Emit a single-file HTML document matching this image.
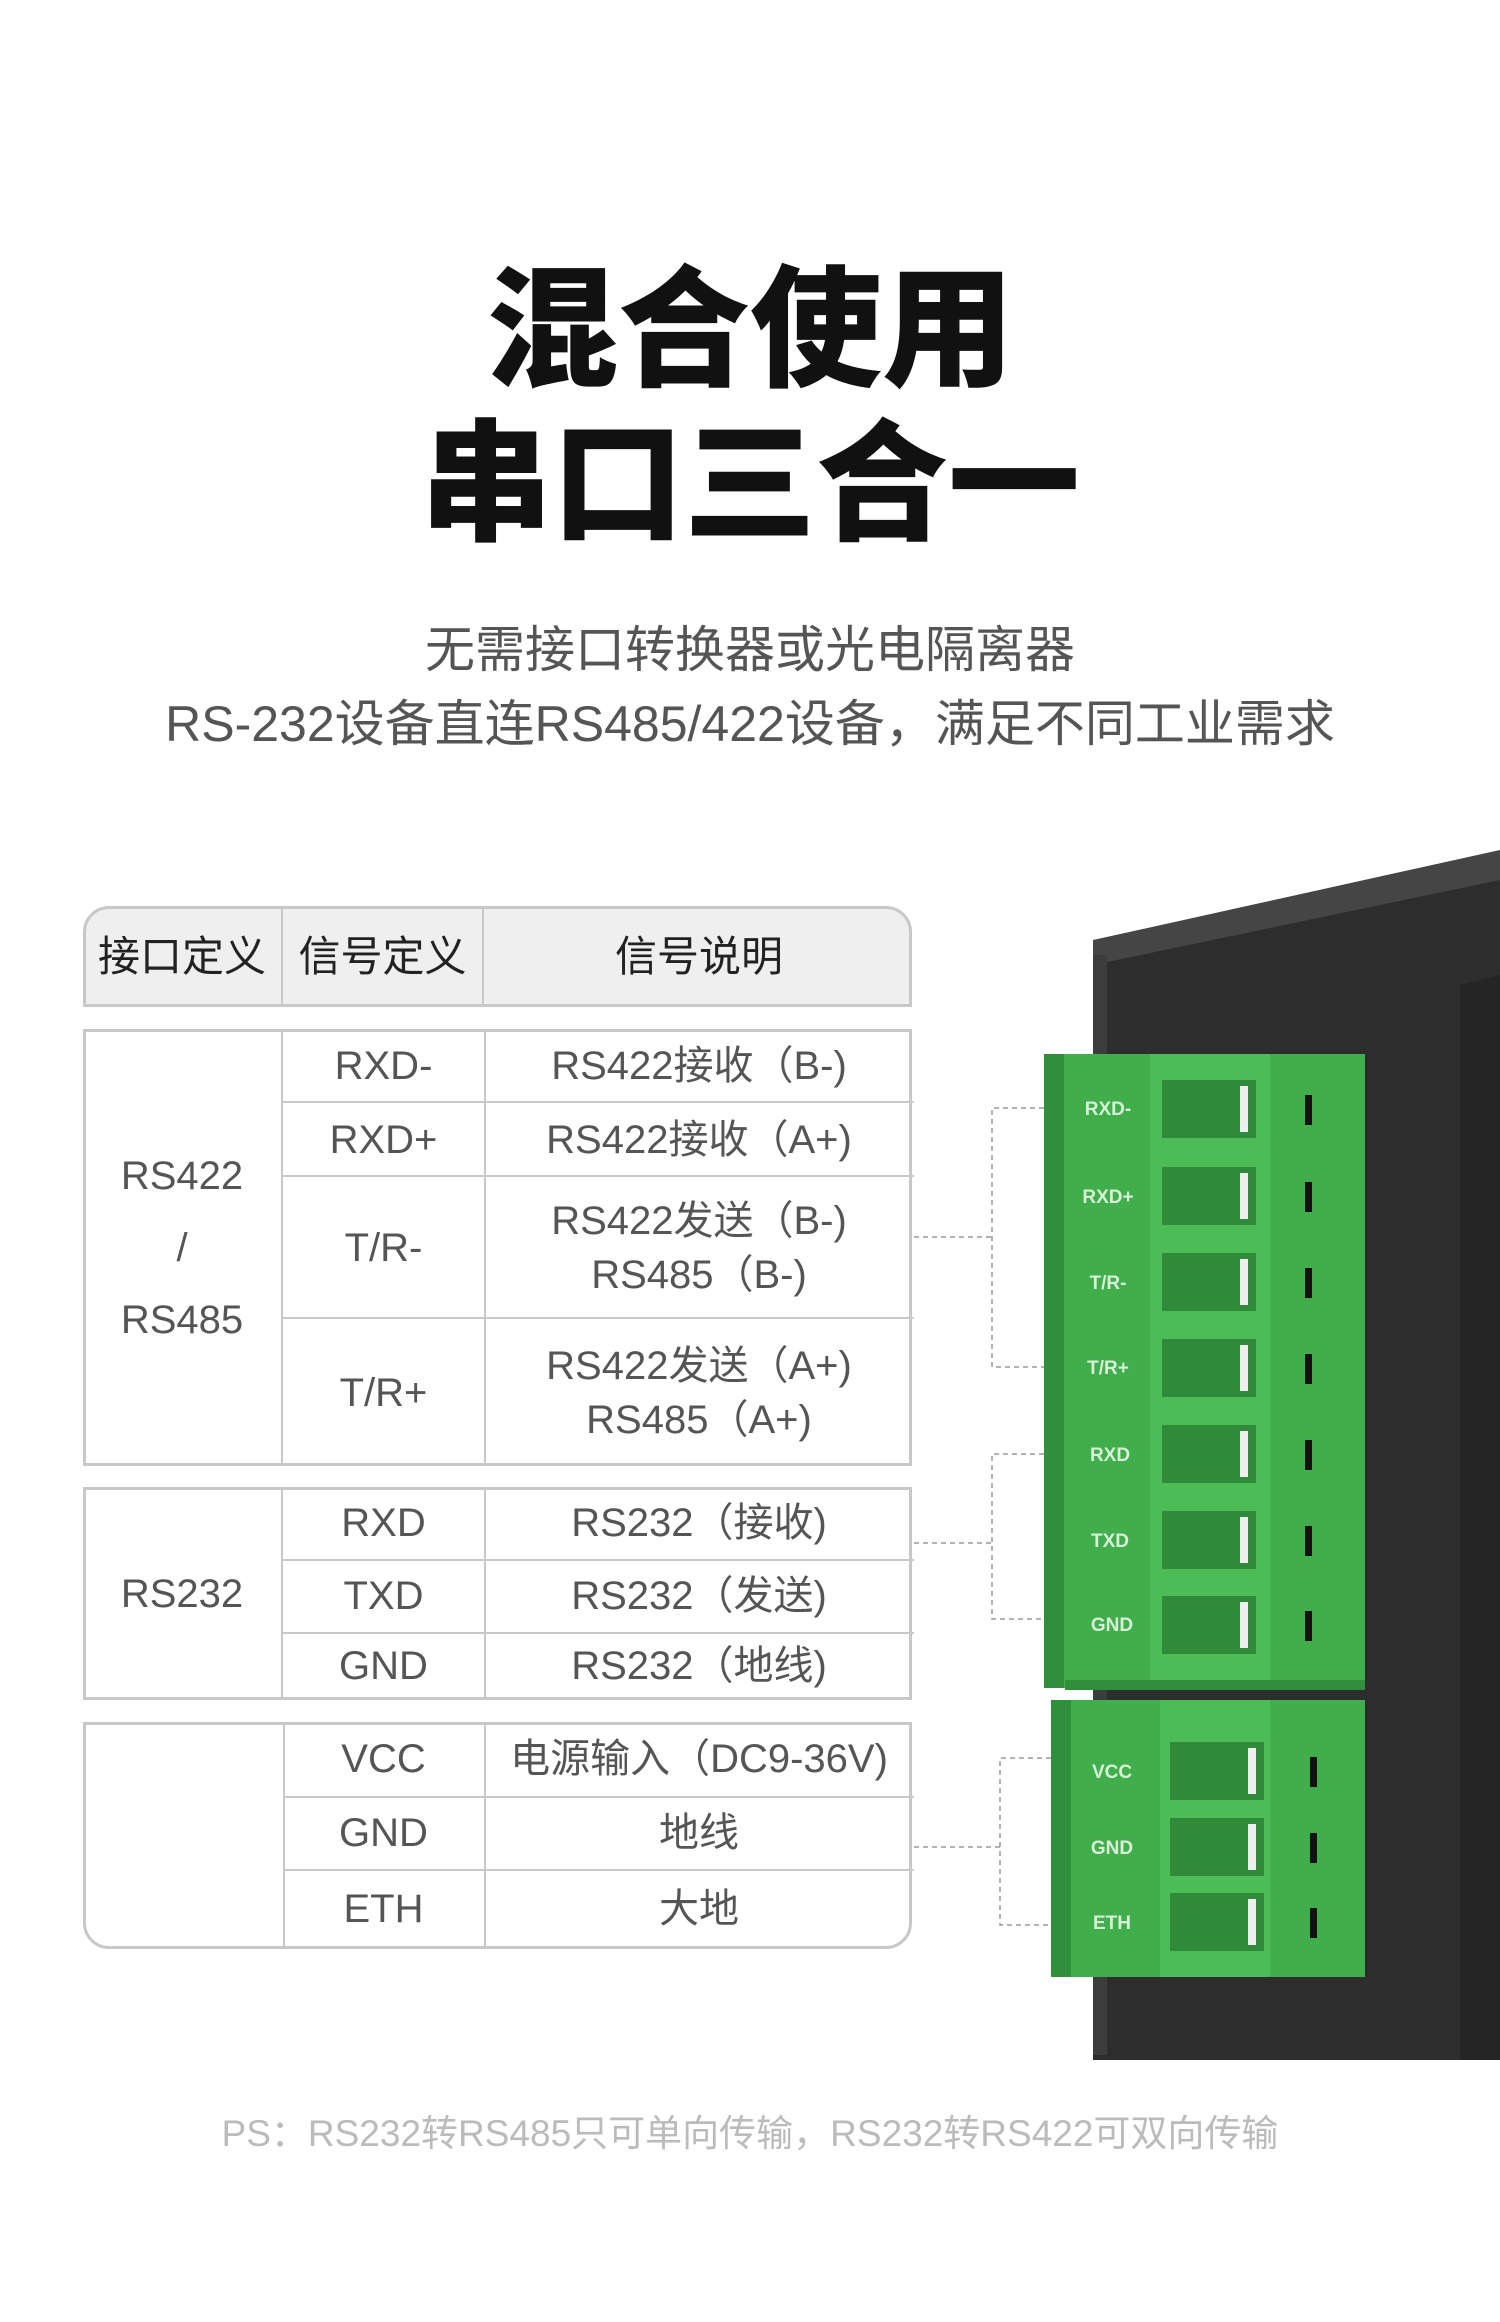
<!DOCTYPE html>
<html><head><meta charset="utf-8"><style>
body{margin:0;width:1500px;height:2322px;background:#fff;position:relative;overflow:hidden;font-family:"Liberation Sans","Noto Sans CJK SC",sans-serif;}
.a{position:absolute;}
.t{position:absolute;left:0;width:1500px;text-align:center;font-weight:900;color:#111;font-size:132px;line-height:140px;font-family:"Noto Sans CJK SC",sans-serif;}
.s{position:absolute;left:0;width:1500px;text-align:center;color:#555;font-size:50px;line-height:60px;}
.box{position:absolute;left:83px;width:829px;border:3px solid #c8c8c8;box-sizing:border-box;}
.c{position:absolute;display:flex;align-items:center;justify-content:center;text-align:center;color:#555;font-size:40px;line-height:54px;box-sizing:border-box;}
</style></head><body>
<div class="t" style="top:250px">混合使用</div>
<div class="t" style="top:404px">串口三合一</div>
<div class="s" style="top:620px">无需接口转换器或光电隔离器</div>
<div class="s" style="top:694px">RS-232设备直连RS485/422设备，满足不同工业需求</div>

<svg class="a" style="left:0;top:0" width="1500" height="2322">
<polygon points="1093,955 1500,865 1500,2060 1093,2060" fill="#2d2d2d"/>
<polygon points="1093,940 1500,850 1500,880 1093,965" fill="#454545"/>
<rect x="1093" y="955" width="14" height="1100" fill="#3c3c3c"/>
<polygon points="1460,985 1500,975 1500,2060 1460,2060" fill="#252525"/>
<rect x="1044" y="1054" width="321" height="634" fill="#3fae4b"/>
<rect x="1044" y="1054" width="20" height="634" fill="#2f8f3a"/>
<rect x="1150" y="1054" width="120" height="634" fill="#4cbc57"/>
<rect x="1065" y="1680" width="300" height="10" fill="#2f8f3a"/>
<rect x="1051" y="1700" width="314" height="277" fill="#3fae4b"/>
<rect x="1051" y="1700" width="20" height="277" fill="#2f8f3a"/>
<rect x="1160" y="1700" width="110" height="277" fill="#4cbc57"/>
<g fill="#2f8a39">
<rect x="1162" y="1080" width="94" height="58"/><rect x="1162" y="1167" width="94" height="58"/><rect x="1162" y="1253" width="94" height="58"/><rect x="1162" y="1339" width="94" height="58"/><rect x="1162" y="1425" width="94" height="58"/><rect x="1162" y="1511" width="94" height="58"/><rect x="1162" y="1596" width="94" height="58"/>
<rect x="1170" y="1742" width="94" height="58"/><rect x="1170" y="1818" width="94" height="58"/><rect x="1170" y="1893" width="94" height="58"/>
</g>
<g fill="#eee">
<rect x="1240" y="1086" width="8" height="46"/><rect x="1240" y="1173" width="8" height="46"/><rect x="1240" y="1259" width="8" height="46"/><rect x="1240" y="1345" width="8" height="46"/><rect x="1240" y="1431" width="8" height="46"/><rect x="1240" y="1517" width="8" height="46"/><rect x="1240" y="1602" width="8" height="46"/>
<rect x="1248" y="1748" width="8" height="46"/><rect x="1248" y="1824" width="8" height="46"/><rect x="1248" y="1899" width="8" height="46"/>
</g>
<g fill="#111">
<rect x="1305" y="1095" width="7" height="30"/><rect x="1305" y="1182" width="7" height="30"/><rect x="1305" y="1268" width="7" height="30"/><rect x="1305" y="1354" width="7" height="30"/><rect x="1305" y="1440" width="7" height="30"/><rect x="1305" y="1526" width="7" height="30"/><rect x="1305" y="1611" width="7" height="30"/>
<rect x="1310" y="1757" width="7" height="30"/><rect x="1310" y="1833" width="7" height="30"/><rect x="1310" y="1908" width="7" height="30"/>
</g>
<g fill="#d8f0d8" font-size="19" font-weight="bold" font-family="Liberation Sans,sans-serif" text-anchor="middle">
<text x="1108" y="1115">RXD-</text><text x="1108" y="1203">RXD+</text><text x="1108" y="1289">T/R-</text><text x="1108" y="1374">T/R+</text><text x="1110" y="1461">RXD</text><text x="1110" y="1547">TXD</text><text x="1112" y="1631">GND</text>
<text x="1112" y="1778">VCC</text><text x="1112" y="1854">GND</text><text x="1112" y="1929">ETH</text>
</g>
<g stroke="#999" stroke-width="1.5" stroke-dasharray="5,4" fill="none">
<path d="M914 1237 H992 M1044 1108 H992 V1367 H1044"/>
<path d="M914 1543 H992 M1044 1454 H992 V1619 H1044"/>
<path d="M914 1847 H1000 M1051 1758 H1000 V1925 H1051"/>
</g>
</svg>

<div class="box" style="top:906px;height:101px;border-radius:26px 26px 0 0;background:#efefef;"></div>
<div class="c" style="left:83px;top:906px;width:200px;height:101px;color:#222;font-size:42px;border-right:2px solid #c8c8c8">接口定义</div>
<div class="c" style="left:283px;top:906px;width:201px;height:101px;color:#222;font-size:42px;border-right:2px solid #c8c8c8">信号定义</div>
<div class="c" style="left:484px;top:906px;width:430px;height:101px;color:#222;font-size:42px">信号说明</div>

<div class="box" style="top:1029px;height:437px;"></div>
<div class="c" style="left:83px;top:1029px;width:200px;height:437px;border-right:2px solid #c8c8c8;line-height:72px">RS422<br>/<br>RS485</div>
<div class="c" style="left:283px;top:1029px;width:631px;height:74px;border-bottom:2px solid #c8c8c8"></div>
<div class="c" style="left:283px;top:1103px;width:631px;height:74px;border-bottom:2px solid #c8c8c8"></div>
<div class="c" style="left:283px;top:1177px;width:631px;height:142px;border-bottom:2px solid #c8c8c8"></div>
<div class="a" style="left:484px;top:1029px;width:2px;height:437px;background:#c8c8c8"></div>
<div class="c" style="left:283px;top:1029px;width:201px;height:74px">RXD-</div>
<div class="c" style="left:484px;top:1029px;width:430px;height:74px">RS422接收（B-)</div>
<div class="c" style="left:283px;top:1103px;width:201px;height:74px">RXD+</div>
<div class="c" style="left:484px;top:1103px;width:430px;height:74px">RS422接收（A+)</div>
<div class="c" style="left:283px;top:1177px;width:201px;height:142px">T/R-</div>
<div class="c" style="left:484px;top:1177px;width:430px;height:142px">RS422发送（B-)<br>RS485（B-)</div>
<div class="c" style="left:283px;top:1319px;width:201px;height:147px">T/R+</div>
<div class="c" style="left:484px;top:1319px;width:430px;height:147px">RS422发送（A+)<br>RS485（A+)</div>

<div class="box" style="top:1487px;height:213px;"></div>
<div class="c" style="left:83px;top:1487px;width:200px;height:213px;border-right:2px solid #c8c8c8">RS232</div>
<div class="a" style="left:484px;top:1487px;width:2px;height:213px;background:#c8c8c8"></div>
<div class="a" style="left:283px;top:1559px;width:631px;height:2px;background:#c8c8c8"></div>
<div class="a" style="left:283px;top:1632px;width:631px;height:2px;background:#c8c8c8"></div>
<div class="c" style="left:283px;top:1487px;width:201px;height:72px">RXD</div>
<div class="c" style="left:484px;top:1487px;width:430px;height:72px">RS232（接收)</div>
<div class="c" style="left:283px;top:1559px;width:201px;height:73px">TXD</div>
<div class="c" style="left:484px;top:1559px;width:430px;height:73px">RS232（发送)</div>
<div class="c" style="left:283px;top:1632px;width:201px;height:68px">GND</div>
<div class="c" style="left:484px;top:1632px;width:430px;height:68px">RS232（地线)</div>

<div class="box" style="top:1722px;height:227px;border-radius:0 0 26px 26px"></div>
<div class="a" style="left:283px;top:1722px;width:2px;height:227px;background:#c8c8c8"></div>
<div class="a" style="left:484px;top:1722px;width:2px;height:227px;background:#c8c8c8"></div>
<div class="a" style="left:283px;top:1796px;width:631px;height:2px;background:#c8c8c8"></div>
<div class="a" style="left:283px;top:1869px;width:631px;height:2px;background:#c8c8c8"></div>
<div class="c" style="left:283px;top:1722px;width:201px;height:74px">VCC</div>
<div class="c" style="left:484px;top:1722px;width:430px;height:74px">电源输入（DC9-36V)</div>
<div class="c" style="left:283px;top:1796px;width:201px;height:73px">GND</div>
<div class="c" style="left:484px;top:1796px;width:430px;height:73px">地线</div>
<div class="c" style="left:283px;top:1869px;width:201px;height:80px">ETH</div>
<div class="c" style="left:484px;top:1869px;width:430px;height:80px">大地</div>

<div class="s" style="top:2104px;font-size:37px;color:#bbb;">PS：RS232转RS485只可单向传输，RS232转RS422可双向传输</div>
</body></html>
